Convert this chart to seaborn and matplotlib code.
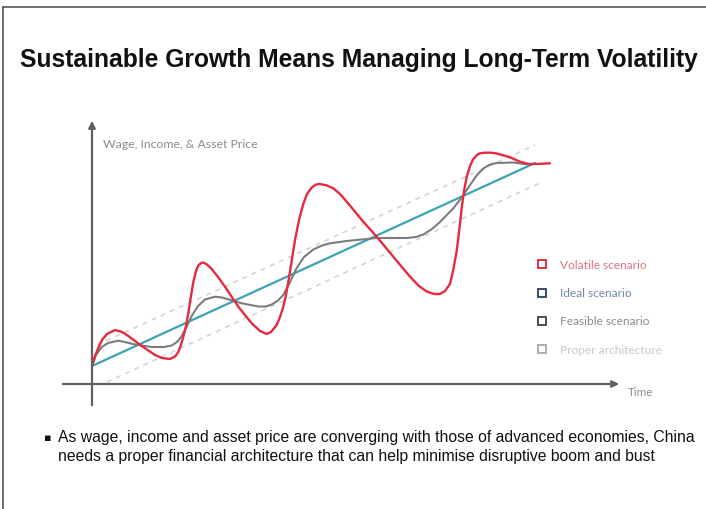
import numpy as np
import pandas as pd
import matplotlib
matplotlib.use("Agg")
import matplotlib.pyplot as plt
import seaborn as sns
from matplotlib.lines import Line2D

# time / value pairs (arbitrary units, origin at the axes cross)
volatile_t = [0.0, 0.3, 0.63, 1.0, 1.5, 2.3, 3.0, 3.63, 4.97, 6.3, 7.0, 7.8, 8.3, 8.63, 8.9,
              9.13, 9.4, 9.63, 9.9, 10.13, 10.4, 10.63, 10.9, 11.13, 11.5, 11.97, 12.6, 13.3,
              14.63, 15.97, 16.8, 17.47, 17.9, 18.47, 18.8, 19.13, 19.4, 19.63, 20.0, 20.3,
              20.7, 21.13, 21.5, 21.97, 22.4, 22.8, 23.5, 24.13, 24.8, 25.47, 27.13, 28.47,
              30.13, 31.8, 32.7, 33.47, 34.2, 34.8, 35.3, 35.8, 36.1, 36.47, 36.75, 36.97,
              37.2, 37.47, 37.8, 38.13, 38.5, 38.8, 39.3, 39.9, 40.47, 41.2, 41.8, 42.8,
              43.63, 44.47, 45.8]
volatile_v = [1.8, 2.8, 3.6, 4.4, 5.0, 5.4, 5.2, 4.8, 3.8, 2.9, 2.6, 2.5, 2.75, 3.2, 3.9,
              4.73, 5.8, 7.07, 8.8, 10.2, 11.3, 11.85, 12.1, 12.15, 11.95, 11.5, 10.7, 9.73,
              7.73, 6.07, 5.3, 5.0, 5.2, 5.9, 6.7, 7.73, 8.9, 10.2, 12.5, 14.4,
              16.4, 18.0, 19.0, 19.65, 19.95, 20.0, 19.85, 19.57, 19.0, 18.23, 16.23, 14.73,
              12.73, 10.73, 9.8, 9.25, 9.0, 9.0, 9.3, 10.0, 11.3, 13.3, 15.6, 17.6,
              19.3, 20.7, 21.8, 22.5, 22.9, 23.07, 23.13, 23.13, 23.05, 22.85, 22.67, 22.23,
              22.0, 22.0, 22.07]

feasible_t = [0.0, 0.4, 0.97, 1.6, 2.63, 3.5, 4.3, 5.97, 7.2, 7.97, 8.5, 8.97, 9.5, 9.97,
              10.6, 11.3, 12.3, 13.0, 13.63, 14.97, 16.63, 17.4, 17.97, 18.6, 19.13, 19.8,
              20.47, 21.2, 22.13, 23.0, 23.8, 25.47, 28.47, 31.47, 32.4, 33.13, 34.0, 34.8,
              36.13, 36.97, 37.8, 38.5, 39.13, 39.8, 40.47, 42.13, 43.47]
feasible_v = [1.8, 2.9, 3.7, 4.1, 4.33, 4.15, 3.95, 3.7, 3.7, 3.85, 4.2, 4.8, 5.8, 6.8,
              7.8, 8.45, 8.73, 8.65, 8.47, 8.07, 7.75, 7.75, 7.95, 8.35, 8.9, 10.2,
              11.6, 12.7, 13.45, 13.85, 14.07, 14.3, 14.6, 14.6, 14.7, 14.95, 15.5, 16.2,
              17.57, 18.65, 19.9, 20.9, 21.55, 21.95, 22.1, 22.15, 21.97]

ideal_t = [0.0, 44.3]
ideal_v = [1.8, 22.1]

upper_t = [0.5, 44.3]
upper_v = [3.9, 23.9]
lower_t = [1.5, 45.0]
lower_v = [0.2, 20.2]

labels = ["Volatile scenario", "Ideal scenario", "Feasible scenario", "Proper architecture"]
marker_colors = ["#d8283c", "#2a3f5a", "#404040", "#a8a8a8"]
text_colors = ["#e0707c", "#7088a8", "#8a8a8a", "#c8c8c8"]

sns.set_style("white")
plt.rcParams["font.family"] = ["Lato", "DejaVu Sans"]

fig = plt.figure(figsize=(7.06, 5.09), dpi=100)
ax = fig.add_axes([0, 0, 1, 1])
ax.set_xlim(-9.2, 61.4)
ax.set_ylim(-12.5, 38.4)
ax.axis("off")

# proper architecture band
sns.lineplot(x=upper_t, y=upper_v, ax=ax, color="#d4d4d4", lw=1.2, linestyle=(0, (3, 3)))
sns.lineplot(x=lower_t, y=lower_v, ax=ax, color="#d4d4d4", lw=1.2, linestyle=(0, (3, 3)))

sns.lineplot(x=ideal_t, y=ideal_v, ax=ax, color="#3aa3b8", lw=1.6)
sns.lineplot(x=feasible_t, y=feasible_v, ax=ax, color="#7c7c7c", lw=1.5)
sns.lineplot(x=volatile_t, y=volatile_v, ax=ax, color="#e52a40", lw=1.7)

# hand drawn style axes with arrows
ax.annotate("", xy=(0, 26.6), xytext=(0, -2.4),
            arrowprops=dict(arrowstyle="-|>", color="#606060", lw=1.6, mutation_scale=10))
ax.annotate("", xy=(53.0, 0), xytext=(-3.2, 0),
            arrowprops=dict(arrowstyle="-|>", color="#606060", lw=1.6, mutation_scale=10))
ax.text(1.1, 23.9, "Wage, Income, & Asset Price", fontsize=8.8, color="#8a8a8a", va="center")
ax.text(53.6, -0.9, "Time", fontsize=8.4, color="#8a8a8a", va="center")

handles = [Line2D([], [], marker="s", linestyle="none", markersize=6,
                  markerfacecolor="white", markeredgecolor=c, markeredgewidth=1.3)
           for c in marker_colors]
leg = ax.legend(handles, labels, loc="upper left", bbox_to_anchor=(0.746, 0.511),
                frameon=False, fontsize=8.6, labelcolor=text_colors,
                labelspacing=1.45, handlelength=0.8, handletextpad=1.05)

fig.text(0.509, 0.882, "Sustainable Growth Means Managing Long-Term Volatility",
         ha="center", va="center", fontsize=17.7, fontweight="bold",
         family="Liberation Sans", color="#111111")

fig.text(0.062, 0.140, "▪", fontsize=8, family="DejaVu Sans", color="#111111", va="center")
fig.text(0.082, 0.155,
         "As wage, income and asset price are converging with those of advanced economies, China\n"
         "needs a proper financial architecture that can help minimise disruptive boom and bust",
         fontsize=11.3, family="Liberation Sans", color="#111111", va="top", linespacing=1.3)

# slide frame
fig.add_artist(Line2D([0.004, 0.004], [0, 0.986], color="#555555", lw=1.2))
fig.add_artist(Line2D([0.004, 1.0], [0.986, 0.986], color="#555555", lw=1.2))

fig.savefig("out.png", dpi=100)
